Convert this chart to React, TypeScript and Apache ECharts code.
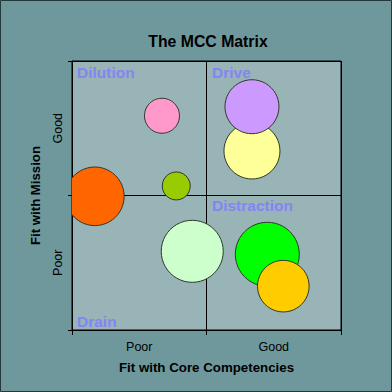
import React, { useEffect, useRef } from "react";
import * as echarts from "echarts";

const xCategories = ["Poor", "Good"];
const yCategories = ["Poor", "Good"];
const quadrantLabels = ["Dilution", "Drive", "Distraction", "Drain"];
// bubble values: fit with core competencies (x), fit with mission (y), bubble size
const coreFit = [0.17, 0.775, 0.669, 0.894, 1.338, 1.338, 1.452, 1.571];
const missionFit = [0.994, 1.071, 1.593, 0.585, 1.331, 1.66, 0.563, 0.326];
const bubbleSize = [58.6, 28, 35, 62, 56, 54, 64, 51.6];
const bubbleColors = ["#FF6600", "#99CC00", "#FF99CC", "#CCFFCC", "#FFFF99", "#CC99FF", "#00FF00", "#FFCC00"];

export default function App() {
  const ref = useRef<HTMLDivElement>(null);
  useEffect(() => {
    document.body.style.margin = "0";
    if (!ref.current) return;
    const chart = echarts.init(ref.current, null, { renderer: "svg" });
    const font = "Arial, 'Liberation Sans', sans-serif";
    const qStyle = (text: string) => ({
      text,
      fill: "#8484F4",
      font: `bold 15.5px ${font}`,
      verticalAlign: "middle",
    });
    chart.setOption({
      animation: false,
      backgroundColor: "#6F989C",
      title: {
        text: "The MCC Matrix",
        left: 203,
        top: 28.5,
        textAlign: "center",
        textStyle: { fontFamily: font, fontWeight: "bold", fontSize: 15.8, color: "#000" },
      },
      grid: {
        left: 72,
        top: 61,
        width: 269,
        height: 269,
        show: true,
        backgroundColor: "#98B4B6",
        borderColor: "#000",
        borderWidth: 1,
      },
      xAxis: [
        {
          type: "value",
          min: 0,
          max: 2,
          interval: 1,
          axisLine: { show: true, lineStyle: { color: "#000" } },
          axisTick: { show: true, length: 5, lineStyle: { color: "#000" } },
          axisLabel: { show: false },
          splitLine: { show: true, lineStyle: { color: "#000", width: 1 } },
        },
        {
          type: "category",
          data: xCategories,
          position: "bottom",
          boundaryGap: true,
          axisLine: { show: false },
          axisTick: { show: false },
          splitLine: { show: false },
          axisLabel: { margin: 10, color: "#000", fontSize: 12.5, fontFamily: font },
          name: "Fit with Core Competencies",
          nameLocation: "middle",
          nameGap: 31,
          nameTextStyle: { color: "#000", fontSize: 13.3, fontWeight: "bold", fontFamily: font },
        },
      ],
      yAxis: [
        {
          type: "value",
          min: 0,
          max: 2,
          interval: 1,
          axisLine: { show: true, lineStyle: { color: "#000" } },
          axisTick: { show: true, length: 4, lineStyle: { color: "#000" } },
          axisLabel: { show: false },
          splitLine: { show: true, lineStyle: { color: "#000", width: 1 } },
        },
        {
          type: "category",
          data: yCategories,
          position: "left",
          boundaryGap: true,
          axisLine: { show: false },
          axisTick: { show: false },
          splitLine: { show: false },
          axisLabel: { margin: 8, rotate: 90, color: "#000", fontSize: 12.5, fontFamily: font },
          name: "Fit with Mission",
          nameLocation: "middle",
          nameRotate: 90,
          nameGap: 30,
          nameTextStyle: { color: "#000", fontSize: 13.2, fontWeight: "bold", fontFamily: font },
        },
      ],
      graphic: [
        { type: "text", x: 77, y: 72, style: qStyle(quadrantLabels[0]) },
        { type: "text", x: 212, y: 72, style: qStyle(quadrantLabels[1]) },
        { type: "text", x: 212, y: 205.5, style: qStyle(quadrantLabels[2]) },
        { type: "text", x: 77, y: 321, style: qStyle(quadrantLabels[3]) },
        {
          type: "rect",
          shape: { x: 0.5, y: 0.5, width: 391, height: 391 },
          style: { fill: "none", stroke: "#23393B", lineWidth: 1 },
          z: 100,
        },
      ],
      series: [
        {
          type: "custom",
          xAxisIndex: 0,
          yAxisIndex: 0,
          clip: true,
          encode: { x: 0, y: 1 },
          data: coreFit.map((x, i) => [x, missionFit[i], bubbleSize[i], i]),
          renderItem: (params: any, api: any) => {
            const pt = api.coord([api.value(0), api.value(1)]);
            const r = api.value(2) / 2;
            const idx = api.value(3);
            return {
              type: "circle",
              shape: { cx: pt[0], cy: pt[1], r },
              style: { fill: bubbleColors[idx], stroke: "#2E3A2A", lineWidth: 1 },
            };
          },
        },
      ],
    });
    return () => chart.dispose();
  }, []);
  return <div ref={ref} style={{ width: 392, height: 392 }} />;
}
